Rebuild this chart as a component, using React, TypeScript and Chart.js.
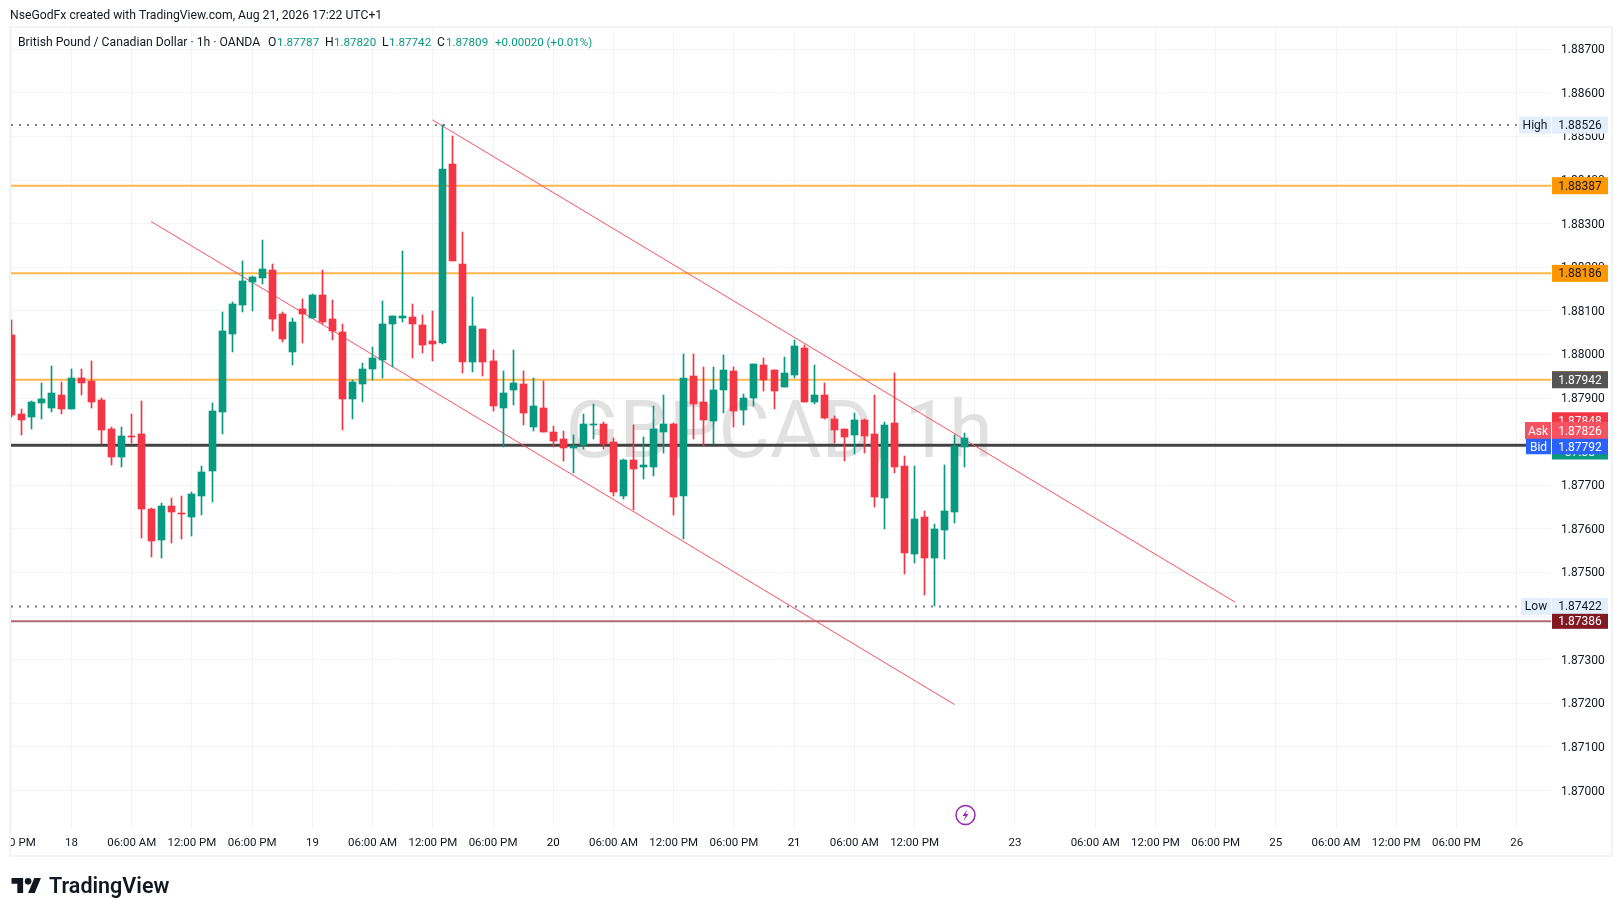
import React, { useEffect, useRef } from "react";
import { Chart, registerables } from "chart.js";

Chart.register(...registerables);

const opens = [
  1.88045,1.87864,1.87857,1.87889,1.87877,1.87907,1.87875,1.87946,1.87939,1.87896,
  1.87829,1.87765,1.87813,1.87818,1.87646,1.87574,1.87652,1.87636,1.87627,1.87675,
  1.87733,1.87868,1.88047,1.88113,1.88166,1.88175,1.88194,1.88093,1.88006,1.88104,
  1.88084,1.88136,1.88081,1.88052,1.87898,1.87932,1.87967,1.87987,1.88070,1.88084,
  1.88086,1.88068,1.88031,1.88026,1.88437,1.88207,1.87983,1.88058,1.87985,1.87877,
  1.87918,1.87932,1.87834,1.87877,1.87822,1.87806,1.87785,1.87792,1.87838,1.87840,
  1.87799,1.87675,1.87758,1.87742,1.87742,1.87822,1.87840,1.87675,1.87951,1.87891,
  1.87847,1.87918,1.87962,1.87873,1.87900,1.87976,1.87964,1.87925,1.87953,1.88015,
  1.87891,1.87907,1.87852,1.87829,1.87815,1.87850,1.87818,1.87671,1.87843,1.87744,
  1.87542,1.87627,1.87533,1.87597,1.87639,1.87787,
];
const highs = [
  1.88079,1.87875,1.87893,1.87935,1.87974,1.87937,1.87967,1.87967,1.87985,1.87900,
  1.87834,1.87834,1.87864,1.87893,1.87648,1.87659,1.87671,1.87675,1.87685,1.87744,
  1.87889,1.88097,1.88120,1.88214,1.88180,1.88262,1.88207,1.88097,1.88084,1.88127,
  1.88138,1.88194,1.88125,1.88070,1.87941,1.87980,1.88017,1.88123,1.88088,1.88237,
  1.88116,1.88090,1.88100,1.88526,1.88501,1.88281,1.88132,1.88058,1.88010,1.87962,
  1.88010,1.87962,1.87946,1.87939,1.87836,1.87824,1.87815,1.87863,1.87886,1.87845,
  1.87808,1.87760,1.87838,1.87811,1.87882,1.87907,1.87843,1.88001,1.88001,1.87971,
  1.87971,1.87999,1.87971,1.87909,1.87978,1.87992,1.87964,1.87994,1.88033,1.88022,
  1.87976,1.87935,1.87859,1.87829,1.87866,1.87852,1.87907,1.87845,1.87957,1.87767,
  1.87744,1.87641,1.87611,1.87746,1.87815,1.87820,
];
const lows = [
  1.87857,1.87815,1.87829,1.87852,1.87868,1.87864,1.87875,1.87907,1.87877,1.87795,
  1.87746,1.87742,1.87797,1.87579,1.87535,1.87533,1.87568,1.87577,1.87584,1.87632,
  1.87662,1.87818,1.88006,1.88097,1.88100,1.88162,1.88054,1.88029,1.87976,1.88026,
  1.88084,1.88070,1.88033,1.87827,1.87852,1.87891,1.87941,1.87946,1.87971,1.88074,
  1.87992,1.88003,1.87985,1.88024,1.88214,1.87957,1.87960,1.87951,1.87870,1.87788,
  1.87884,1.87838,1.87824,1.87822,1.87788,1.87756,1.87728,1.87783,1.87806,1.87783,
  1.87675,1.87668,1.87643,1.87714,1.87721,1.87774,1.87632,1.87577,1.87806,1.87790,
  1.87795,1.87866,1.87834,1.87838,1.87882,1.87916,1.87875,1.87925,1.87946,1.87891,
  1.87886,1.87852,1.87797,1.87756,1.87772,1.87774,1.87650,1.87600,1.87728,1.87496,
  1.87522,1.87448,1.87422,1.87531,1.87613,1.87742,
];
const closes = [
  1.87861,1.87850,1.87891,1.87898,1.87912,1.87875,1.87946,1.87935,1.87891,1.87827,
  1.87765,1.87813,1.87811,1.87646,1.87572,1.87652,1.87639,1.87634,1.87680,1.87730,
  1.87870,1.88054,1.88116,1.88168,1.88178,1.88196,1.88081,1.88035,1.88074,1.88093,
  1.88136,1.88075,1.88054,1.87898,1.87937,1.87967,1.87992,1.88070,1.88088,1.88088,
  1.88070,1.88022,1.88024,1.88425,1.88214,1.87983,1.88065,1.87983,1.87882,1.87912,
  1.87935,1.87866,1.87882,1.87822,1.87801,1.87785,1.87790,1.87840,1.87840,1.87795,
  1.87685,1.87758,1.87737,1.87746,1.87829,1.87840,1.87673,1.87946,1.87886,1.87850,
  1.87918,1.87964,1.87870,1.87900,1.87978,1.87941,1.87916,1.87957,1.88019,1.87891,
  1.87907,1.87854,1.87827,1.87811,1.87850,1.87813,1.87673,1.87838,1.87742,1.87545,
  1.87623,1.87533,1.87600,1.87641,1.87790,1.87809,
];

const priceTicks = [1.87,1.871,1.872,1.873,1.874,1.875,1.876,1.877,1.878,1.879,1.88,1.881,1.882,1.883,1.884,1.885,1.886,1.887];
const timeTickBars = [0,6,12,18,24,30,36,42,48,54,60,66,72,78,84,90,96,100,108,114,120,126,132,138,144,150];
const timeTickLabels = ["12:00 PM","18","06:00 AM","12:00 PM","06:00 PM","19","06:00 AM","12:00 PM","06:00 PM","20","06:00 AM","12:00 PM","06:00 PM","21","06:00 AM","12:00 PM","","23","06:00 AM","12:00 PM","06:00 PM","25","06:00 AM","12:00 PM","06:00 PM","26"];

const supportLevels = [1.88387, 1.88186, 1.87942];
const bidLevel = 1.87792;
const sessionHigh = 1.88526;
const sessionLow = 1.87422;
const redLevel = 1.87388;
const channelUpper = [{ x: 41.95, y: 1.88538 }, { x: 121.94, y: 1.87432 }];
const channelLower = [{ x: 13.92, y: 1.88305 }, { x: 93.99, y: 1.87197 }];

const UP = "#089981";
const DOWN = "#f23645";
const FONT = "Roboto, sans-serif";
const GRID = "#f3f4f6";

function hLine(y: number, x0: number, x1: number, color: string, width: number, dash: number[] = []) {
  return {
    type: "line", order: 5, data: [{ x: x0, y }, { x: x1, y }],
    borderColor: color, borderWidth: width, borderDash: dash, pointRadius: 0, fill: false, tension: 0,
  };
}

function tag(ctx: any, x0: number, x1: number, yc: number, h: number, bg: string, fg: string, text: string) {
  ctx.fillStyle = bg;
  ctx.fillRect(x0, yc - h / 2, x1 - x0, h);
  ctx.fillStyle = fg;
  ctx.textAlign = "center";
  ctx.textBaseline = "middle";
  ctx.font = `12px ${FONT}`;
  ctx.fillText(text, (x0 + x1) / 2, yc + 1);
}

const crispCandles = {
  id: "crispCandles",
  beforeDatasetsDraw(chart: any) {
    chart.getSortedVisibleDatasetMetas().forEach((meta: any) => {
      if (meta.type !== "bar") return;
      meta.data.forEach((el: any) => {
        el.x = Math.floor(el.x) + 0.5;
        el.y = Math.round(el.y);
        el.base = Math.round(el.base);
        if (el.y === el.base) el.base = el.y + 1;
      });
    });
  },
};

const nudgePriceLabels = {
  id: "nudgePriceLabels",
  afterLayout(chart: any) {
    const y = chart.scales.y;
    y._labelItems = y._computeLabelItems(chart.chartArea);
    y._labelItems.forEach((item: any) => { item.options.translation[1] += 1; });
  },
};

const watermark = {
  id: "watermark",
  beforeDatasetsDraw(chart: any) {
    const ctx = chart.ctx;
    ctx.save();
    ctx.fillStyle = "#e1e1e1";
    ctx.font = `79px ${FONT}`;
    ctx.textAlign = "center";
    ctx.textBaseline = "alphabetic";
    ctx.fillText("GBPCAD, 1h", 779, 457);
    ctx.restore();
  },
};

const background = {
  id: "background",
  beforeDraw(chart: any) {
    const ctx = chart.ctx;
    ctx.save();
    ctx.fillStyle = "#ffffff";
    ctx.fillRect(0, 0, chart.width, chart.height);
    ctx.restore();
  },
};

const overlay = {
  id: "overlay",
  afterDraw(chart: any) {
    const ctx = chart.ctx;
    const y = chart.scales.y;
    ctx.save();
    // clip of the left-most time label
    ctx.fillStyle = "#ffffff";
    ctx.fillRect(0, 829, 10, 27);

    // frame
    ctx.strokeStyle = "#f2f3f5";
    ctx.lineWidth = 2;
    ctx.strokeRect(10, 27, 1602, 829);

    // header
    ctx.textBaseline = "middle";
    ctx.textAlign = "left";
    ctx.fillStyle = "#131722";
    ctx.font = `12.2px ${FONT}`;
    ctx.fillText("NseGodFx created with TradingView.com, Aug 21, 2026 17:22 UTC+1", 10, 16);
    ctx.fillText("British Pound / Canadian Dollar · 1h · OANDA", 18, 43);
    const ohlc: [string, number, string, number][] = [
      ["O", 268, "1.87787", 277], ["H", 325, "1.87820", 334], ["L", 382, "1.87742", 389], ["C", 437, "1.87809", 446],
    ];
    ohlc.forEach(([k, kx, v, vx]) => {
      ctx.font = `12.2px ${FONT}`;
      ctx.fillStyle = "#131722";
      ctx.fillText(k, kx, 43);
      ctx.font = `11.6px ${FONT}`;
      ctx.fillStyle = UP;
      ctx.fillText(v, vx, 43);
    });
    ctx.fillText("+0.00020 (+0.01%)", 495, 43);

    // price tags
    const L = 1552, R = 1608;
    tag(ctx, 1519, 1551, y.getPixelForValue(sessionHigh), 17, "#e3effd", "#131722", "High");
    tag(ctx, L, R, y.getPixelForValue(sessionHigh), 17, "#e3effd", "#131722", "1.88526");
    supportLevels.slice(0, 2).forEach((p) => {
      tag(ctx, L, R, y.getPixelForValue(p), 17, "#ff9800", "#131722", p.toFixed(5));
    });
    ctx.fillStyle = "#ff9800";
    ctx.fillRect(L, y.getPixelForValue(supportLevels[2]) - 8.5, R - L, 9.5);
    tag(ctx, L, R, y.getPixelForValue(supportLevels[2]), 17, "#555555", "#ffffff", supportLevels[2].toFixed(5));
    // last price with countdown, partly covered by the bid tag
    ctx.fillStyle = UP;
    ctx.fillRect(L, 429, R - L, 30.5);
    ctx.fillStyle = "#ffffff";
    ctx.font = `12px ${FONT}`;
    ctx.textAlign = "center";
    ctx.fillText("37:38", (L + R) / 2, 453);
    tag(ctx, L, R, y.getPixelForValue(1.87848), 17, DOWN, "#ffffff", "1.87848");
    tag(ctx, L, R, 430.5, 17, "#f7525f", "#ffffff", "1.87826");
    tag(ctx, 1525, 1551, 430.5, 17, "#f7525f", "#ffffff", "Ask");
    tag(ctx, L, R, 446.5, 15.5, "#2962ff", "#ffffff", "1.87792");
    tag(ctx, 1526, 1551, 446.5, 15.5, "#2962ff", "#ffffff", "Bid");
    tag(ctx, 1521, 1551, y.getPixelForValue(sessionLow), 17, "#e3effd", "#131722", "Low");
    tag(ctx, L, R, y.getPixelForValue(sessionLow), 17, "#e3effd", "#131722", "1.87422");
    tag(ctx, L, R, y.getPixelForValue(redLevel), 15, "#801922", "#ffffff", "1.87386");

    // lightning badge
    ctx.strokeStyle = "#9c27b0";
    ctx.lineWidth = 1.5;
    ctx.beginPath();
    ctx.arc(965.5, 815, 9.5, 0, Math.PI * 2);
    ctx.stroke();
    ctx.fillStyle = "#9c27b0";
    ctx.beginPath();
    ctx.moveTo(967.5, 809);
    ctx.lineTo(962.5, 816);
    ctx.lineTo(965.5, 816);
    ctx.lineTo(963.5, 821);
    ctx.lineTo(968.5, 814);
    ctx.lineTo(965.5, 814);
    ctx.closePath();
    ctx.fill();

    // TradingView logo
    ctx.save();
    ctx.translate(11.5, 874.7);
    ctx.scale(0.83, 0.83);
    ctx.fillStyle = "#131722";
    ctx.fill(new Path2D("M14 22H7V11H0V4h14v18zM28 22h-8l7.5-18h8L28 22z"));
    ctx.beginPath();
    ctx.arc(20, 8, 4, 0, Math.PI * 2);
    ctx.fill();
    ctx.restore();
    ctx.fillStyle = "#131722";
    ctx.textAlign = "left";
    ctx.textBaseline = "middle";
    ctx.font = `600 21.5px ${FONT}`;
    ctx.fillText("TradingView", 49, 887.5);
    ctx.restore();
  },
};

export default function App() {
  const ref = useRef<HTMLCanvasElement | null>(null);

  useEffect(() => {
    if (!ref.current) return;
    const bars = opens.map((_, i) => i);
    const colors = bars.map((i) => (closes[i] >= opens[i] ? UP : DOWN));
    const chart = new Chart(ref.current, {
      type: "bar",
      data: {
        datasets: [
          hLine(sessionHigh, -0.03, 150, "#787b86", 2, [2, 6]),
          hLine(sessionLow, -0.03, 150, "#787b86", 2, [2, 6]),
          ...supportLevels.map((p) => hLine(p, -1, 154, "#ffb74d", 2)),
          hLine(redLevel, -1, 154, "#b0696f", 2),
          hLine(bidLevel, -1, 154, "#434343", 3),
          { type: "line", order: 4, data: channelUpper, borderColor: "#f7525f", borderWidth: 1, pointRadius: 0, fill: false, tension: 0 },
          { type: "line", order: 4, data: channelLower, borderColor: "#f7525f", borderWidth: 1, pointRadius: 0, fill: false, tension: 0 },
          {
            type: "bar", order: 2, barThickness: 1, grouped: false,
            data: bars.map((i) => ({ x: i, y: [lows[i], highs[i]] })),
            backgroundColor: colors, borderWidth: 0,
          },
          {
            type: "bar", order: 1, barThickness: 7, grouped: false, minBarLength: 1,
            data: bars.map((i) => ({ x: i, y: [opens[i], closes[i]] })),
            backgroundColor: colors, borderWidth: 0,
          },
        ] as any,
      },
      options: {
        animation: false,
        responsive: false,
        devicePixelRatio: 1,
        events: [],
        layout: { padding: { left: 10, top: 27, right: 11, bottom: 60 } },
        plugins: { legend: { display: false }, tooltip: { enabled: false }, title: { display: false } },
        scales: {
          x: {
            type: "linear",
            offset: false,
            min: -0.13,
            max: 153.42,
            grid: { color: GRID, lineWidth: 1, drawTicks: false, offset: false },
            border: { display: false },
            afterBuildTicks: (s: any) => { s.ticks = timeTickBars.map((value) => ({ value })); },
            afterFit: (s: any) => { s.height = 28; s.paddingLeft = 0; s.paddingRight = 0; },
            ticks: {
              autoSkip: false, maxRotation: 0, minRotation: 0, padding: 8,
              color: (c: any) => (timeTickLabels[c.index] === "20" || timeTickLabels[c.index] === "21" ? "#000000" : "#131722"),
              font: { family: FONT, size: 11.5 },
              callback: (_v: any, i: number) => timeTickLabels[i],
            },
          },
          y: {
            type: "linear",
            position: "right",
            min: 1.86914,
            max: 1.88751,
            grid: { color: GRID, lineWidth: 1, drawTicks: false },
            border: { display: false },
            afterBuildTicks: (s: any) => { s.ticks = priceTicks.map((value) => ({ value })); },
            afterFit: (s: any) => { s.width = 61; s.paddingTop = 0; s.paddingBottom = 0; },
            ticks: {
              padding: 10, color: "#131722",
              font: { family: FONT, size: 12 },
              callback: (v: any) => Number(v).toFixed(5),
            },
          },
        },
      } as any,
      plugins: [background, nudgePriceLabels, watermark, crispCandles, overlay],
    });
    return () => chart.destroy();
  }, []);

  return (
    <div style={{ position: "fixed", left: 0, top: 0, width: 1623, height: 916, background: "#fff" }}>
      <canvas ref={ref} width={1623} height={916} style={{ display: "block", width: 1623, height: 916 }} />
    </div>
  );
}
